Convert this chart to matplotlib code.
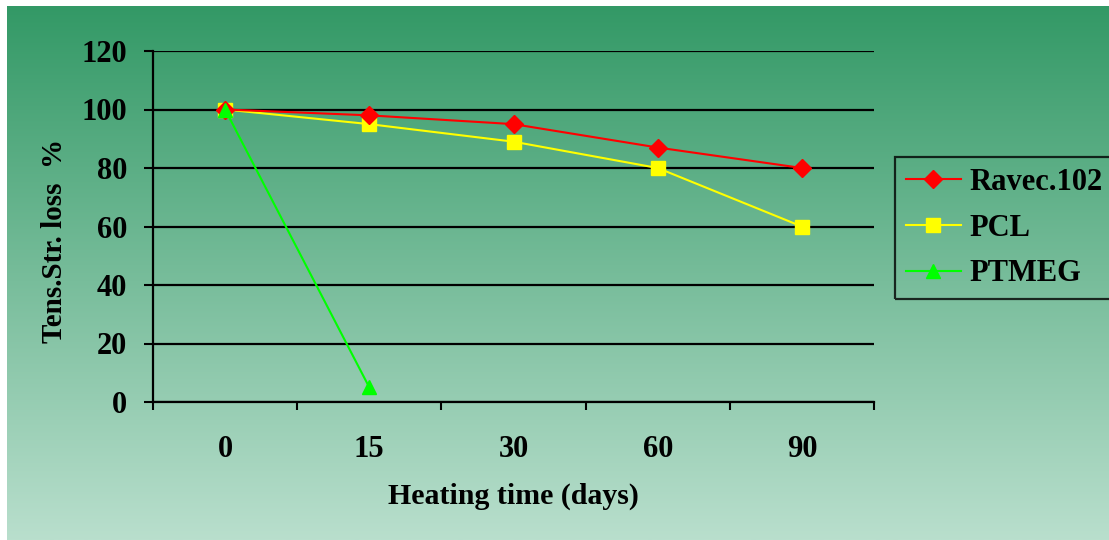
import numpy as np
import matplotlib
matplotlib.use("Agg")
import matplotlib.pyplot as plt
from matplotlib.colors import LinearSegmentedColormap

# --- Data ---
days = ["0", "15", "30", "60", "90"]
ravec = [100, 98, 95, 87, 80]
pcl = [100, 95, 89, 80, 60]
ptmeg = [100, 5]

plt.rcParams["font.family"] = ["Liberation Serif", "DejaVu Serif"]
plt.rcParams["font.weight"] = "bold"

W, H = 1109, 540
fig = plt.figure(figsize=(W / 100, H / 100), dpi=100)
fig.patch.set_facecolor("white")

# --- Gradient background ---
bg = fig.add_axes([7 / W, 0, 1 - 7 / W, (H - 6) / H], zorder=0)
grad_cmap = LinearSegmentedColormap.from_list("bg", ["#339966", "#b9dfcd"])
bg.imshow(np.linspace(0, 1, 256).reshape(-1, 1), aspect="auto", cmap=grad_cmap,
          extent=[0, 1, 0, 1], origin="upper")
bg.set_axis_off()

# --- Main axes ---
x0, x1 = 153, 874
y0, y1 = 402, 51
ax = fig.add_axes([x0 / W, 1 - y0 / H, (x1 - x0) / W, (y0 - y1) / H], zorder=1)
ax.patch.set_alpha(0)

x = np.arange(len(days))
ax.plot(x, ravec, color="#ff0000", lw=1.5, marker="D", ms=9, mec="#ff0000",
        mfc="#ff0000", label="Ravec.102", zorder=4)
ax.plot(x, pcl, color="#ffff00", lw=1.5, marker="s", ms=10, mec="#ffff00",
        mfc="#ffff00", label="PCL", zorder=3)
ax.plot(x[:len(ptmeg)], ptmeg, color="#00ff00", lw=1.5, marker="^", ms=10,
        mec="#00ff00", mfc="#00ff00", label="PTMEG", zorder=5)

ax.set_xlim(-0.5, len(days) - 0.5)
ax.set_ylim(0, 120)
ax.set_yticks(np.arange(0, 121, 20))
ax.yaxis.grid(True, color="black", lw=1.6)
ax.set_axisbelow(True)

ax.set_xticks(x)
ax.set_xticklabels(days)
ax.set_xticks(np.arange(-0.5, len(days)), minor=True)
ax.tick_params(axis="x", which="major", length=0, pad=24, labelsize=22)
ax.tick_params(axis="x", which="minor", length=6, width=1.5, direction="out")
ax.tick_params(axis="y", length=6.5, width=1.5, direction="out", pad=12, labelsize=22)
for lab in ax.get_xticklabels() + ax.get_yticklabels():
    lab.set_fontweight("bold")

for side in ("top", "right"):
    ax.spines[side].set_visible(False)
ax.spines["left"].set_linewidth(1.6)
ax.spines["bottom"].set_linewidth(1.6)

ax.set_xlabel("Heating time (days)", fontsize=21.5, fontweight="bold", labelpad=13)
ax.set_ylabel("Tens.Str. loss  %", fontsize=21, fontweight="bold")
ax.yaxis.set_label_coords(-0.118, 0.46)

# --- Legend ---
leg = fig.legend(loc="upper left", bbox_to_anchor=(895 / W, 1 - 157 / H),
                 borderaxespad=0, fontsize=22, frameon=True, fancybox=False,
                 handlelength=1.8, borderpad=0.35, labelspacing=0.55,
                 handletextpad=0.3)
leg.get_frame().set_edgecolor("black")
leg.get_frame().set_linewidth(1.6)
leg.get_frame().set_facecolor("none")
for t in leg.get_texts():
    t.set_fontweight("bold")

fig.savefig("out.png", dpi=100)
